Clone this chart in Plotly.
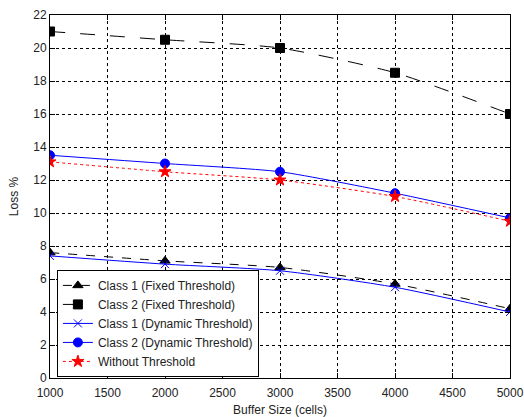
import plotly.graph_objects as go

buffer_size = [1000, 2000, 3000, 4000, 5000]
class1_fixed = [7.6, 7.1, 6.7, 5.7, 4.2]
class2_fixed = [21.0, 20.5, 20.0, 18.5, 16.0]
class1_dynamic = [7.4, 6.9, 6.5, 5.5, 4.0]
class2_dynamic = [13.5, 13.0, 12.5, 11.2, 9.7]
without_threshold = [13.1, 12.5, 12.0, 11.0, 9.5]

x_ticks = [1000, 1500, 2000, 2500, 3000, 3500, 4000, 4500, 5000]
y_ticks = [0, 2, 4, 6, 8, 10, 12, 14, 16, 18, 20, 22]

fig = go.Figure()
series = [
    ("Class 1 (Fixed Threshold)", class1_fixed, "black", "dash", "triangle-up", 9),
    ("Class 2 (Fixed Threshold)", class2_fixed, "black", "longdash", "square", 9),
    ("Class 1 (Dynamic Threshold)", class1_dynamic, "blue", "solid", "x-thin-open", 8),
    ("Class 2 (Dynamic Threshold)", class2_dynamic, "blue", "solid", "circle", 9),
    ("Without Threshold", without_threshold, "red", "dot", "star", 9),
]
for name, y, color, dash, sym, size in series:
    fig.add_trace(go.Scatter(
        x=buffer_size, y=y, name=name, mode="lines+markers",
        line=dict(color=color, width=1, dash=dash, shape="spline", smoothing=0.6),
        marker=dict(symbol=sym, size=size, color=color,
                    line=dict(color=color, width=1)),
    ))

axis_common = dict(
    showline=True, linecolor="black", linewidth=1, mirror="ticks",
    ticks="inside", ticklen=5, tickcolor="black",
    showgrid=True, gridcolor="black", griddash="dot", gridwidth=1,
    zeroline=False, tickfont=dict(size=12, color="#222"), automargin=False,
)
fig.update_xaxes(range=[1000, 5000], tickvals=x_ticks, ticklabelstandoff=4,
                 title=dict(text="Buffer Size (cells)", font=dict(size=12, color="#222"), standoff=6),
                 **axis_common)
fig.update_yaxes(range=[0, 22], tickvals=y_ticks,
                 title=dict(text="Loss %", font=dict(size=12, color="#222"), standoff=12),
                 **axis_common)

fig.update_layout(
    width=524, height=417,
    margin=dict(l=50, r=14, t=15, b=39),
    plot_bgcolor="white", paper_bgcolor="white",
    font=dict(family="Liberation Sans, Arial, sans-serif", size=12, color="#222"),
    legend=dict(x=0.015, y=0.003, xanchor="left", yanchor="bottom",
                bgcolor="white", bordercolor="black", borderwidth=1,
                font=dict(size=12), tracegroupgap=0, itemwidth=30),
)

fig.write_html("out.html", config={"displayModeBar": False},
               post_script="document.body.style.margin='0';")
